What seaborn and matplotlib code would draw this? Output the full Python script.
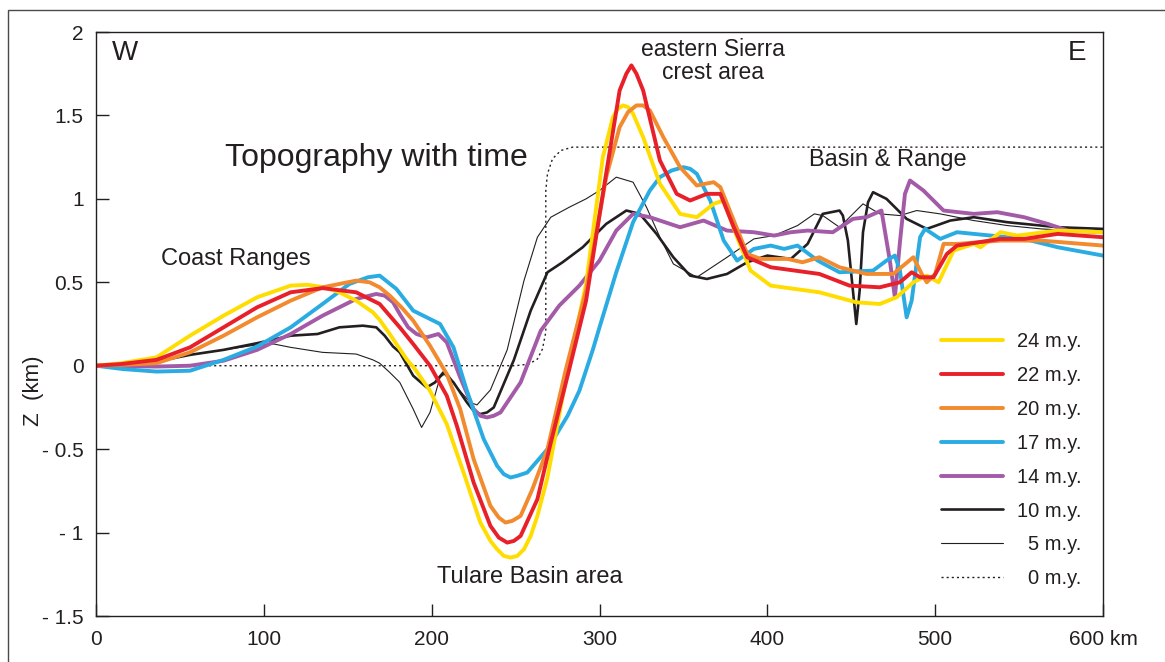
import matplotlib
matplotlib.use("Agg")
import matplotlib.pyplot as plt
import seaborn as sns
from matplotlib.patches import Rectangle

# ---------------- data (km along profile, elevation km) ----------------
x24 = [0, 15, 36, 56, 76, 96, 116, 126, 136, 145, 155, 165, 169, 175, 181, 185, 190, 199, 209, 219, 229, 235, 239, 243, 247, 251, 255, 259, 263, 269, 280, 292, 302, 308, 311, 314, 317, 320, 326, 336, 348, 358, 368, 374, 382, 390, 402, 431, 453, 467, 477, 487, 495, 502, 511, 523, 527, 539, 549, 573, 600]
z24 = [0, 0.015, 0.05, 0.18, 0.30, 0.41, 0.48, 0.485, 0.47, 0.44, 0.39, 0.32, 0.275, 0.19, 0.10, 0.04, -0.02, -0.15, -0.35, -0.64, -0.94, -1.05, -1.10, -1.14, -1.15, -1.14, -1.10, -1.02, -0.90, -0.67, -0.08, 0.49, 1.25, 1.49, 1.54, 1.56, 1.55, 1.51, 1.37, 1.09, 0.91, 0.89, 0.97, 0.99, 0.77, 0.57, 0.48, 0.44, 0.38, 0.37, 0.41, 0.50, 0.54, 0.50, 0.69, 0.73, 0.71, 0.80, 0.78, 0.81, 0.80]

x22 = [0, 15, 36, 56, 76, 96, 116, 135, 155, 165, 169, 175, 181, 189, 199, 209, 215, 225, 235, 240, 245, 249, 253, 263, 271, 282, 292, 302, 312, 316, 319, 322, 326, 336, 346, 354, 364, 372, 380, 388, 402, 431, 449, 467, 479, 486, 491, 499, 507, 513, 539, 553, 573, 600]
z22 = [0, 0.01, 0.035, 0.11, 0.23, 0.35, 0.44, 0.465, 0.44, 0.39, 0.37, 0.30, 0.23, 0.13, 0.0, -0.18, -0.36, -0.70, -0.96, -1.03, -1.06, -1.05, -1.02, -0.80, -0.46, -0.02, 0.39, 1.03, 1.65, 1.75, 1.80, 1.75, 1.65, 1.23, 1.03, 0.99, 1.03, 1.03, 0.83, 0.65, 0.59, 0.55, 0.48, 0.47, 0.50, 0.56, 0.53, 0.53, 0.67, 0.72, 0.76, 0.76, 0.79, 0.77]

x20 = [0, 15, 36, 56, 76, 96, 116, 135, 155, 163, 169, 175, 182, 189, 199, 209, 217, 225, 235, 240, 244, 248, 253, 260, 269, 280, 292, 304, 312, 317, 322, 326, 330, 338, 348, 358, 368, 372, 380, 388, 396, 412, 421, 431, 443, 459, 475, 487, 492, 495, 500, 505, 513, 539, 563, 600]
z20 = [0, 0.005, 0.015, 0.08, 0.18, 0.29, 0.39, 0.47, 0.51, 0.50, 0.47, 0.42, 0.35, 0.27, 0.12, -0.05, -0.26, -0.56, -0.84, -0.91, -0.94, -0.93, -0.90, -0.74, -0.50, -0.02, 0.45, 1.13, 1.43, 1.52, 1.56, 1.56, 1.53, 1.37, 1.19, 1.08, 1.10, 1.07, 0.87, 0.67, 0.64, 0.64, 0.62, 0.65, 0.59, 0.55, 0.55, 0.65, 0.55, 0.50, 0.55, 0.73, 0.73, 0.75, 0.75, 0.72]

x17 = [0, 16, 36, 56, 76, 96, 116, 135, 151, 162, 169, 179, 189, 197, 205, 213, 221, 231, 239, 243, 247, 251, 257, 269, 281, 288, 296, 300, 310, 320, 330, 336, 343, 350, 354, 358, 366, 374, 382, 392, 402, 410, 418, 430, 443, 463, 471, 476, 479, 483, 486, 491, 494, 503, 513, 533, 553, 573, 600]
z17 = [0, -0.02, -0.035, -0.03, 0.035, 0.115, 0.23, 0.37, 0.49, 0.53, 0.54, 0.46, 0.33, 0.29, 0.25, 0.11, -0.15, -0.44, -0.60, -0.65, -0.67, -0.66, -0.64, -0.50, -0.30, -0.15, 0.095, 0.23, 0.56, 0.86, 1.05, 1.13, 1.17, 1.19, 1.18, 1.15, 0.99, 0.75, 0.63, 0.70, 0.72, 0.70, 0.72, 0.63, 0.56, 0.57, 0.63, 0.66, 0.57, 0.29, 0.39, 0.77, 0.82, 0.76, 0.80, 0.78, 0.76, 0.71, 0.66]

x14 = [0, 36, 56, 76, 96, 116, 135, 155, 167, 172, 177, 181, 186, 191, 197, 204, 209, 217, 225, 229, 233, 237, 241, 253, 265, 276, 288, 300, 310, 320, 330, 348, 362, 376, 392, 404, 414, 424, 439, 451, 459, 468, 473, 476, 479, 482, 485, 493, 505, 523, 537, 553, 567, 579, 600]
z14 = [0, -0.005, 0.0, 0.03, 0.095, 0.19, 0.30, 0.40, 0.43, 0.42, 0.38, 0.31, 0.23, 0.19, 0.17, 0.19, 0.14, -0.07, -0.26, -0.30, -0.31, -0.30, -0.28, -0.10, 0.21, 0.36, 0.48, 0.63, 0.81, 0.91, 0.89, 0.83, 0.87, 0.81, 0.80, 0.78, 0.80, 0.81, 0.80, 0.88, 0.89, 0.93, 0.63, 0.41, 0.74, 1.03, 1.11, 1.05, 0.93, 0.91, 0.92, 0.89, 0.85, 0.81, 0.80]

x10 = [0, 36, 56, 76, 96, 116, 132, 145, 159, 167, 172, 177, 181, 189, 197, 202, 207, 213, 221, 225, 229, 233, 237, 249, 259, 269, 278, 290, 304, 316, 324, 334, 344, 354, 364, 376, 388, 400, 414, 424, 433, 443, 445, 448, 451, 453, 455, 457, 460, 463, 471, 483, 495, 509, 523, 543, 573, 600]
z10 = [0, 0.025, 0.065, 0.095, 0.135, 0.18, 0.19, 0.23, 0.24, 0.23, 0.18, 0.115, 0.08, -0.06, -0.13, -0.10, -0.04, -0.10, -0.22, -0.27, -0.29, -0.28, -0.25, 0.035, 0.33, 0.56, 0.62, 0.71, 0.85, 0.93, 0.91, 0.79, 0.65, 0.54, 0.52, 0.55, 0.62, 0.66, 0.64, 0.73, 0.91, 0.93, 0.90, 0.75, 0.45, 0.25, 0.45, 0.80, 0.98, 1.04, 1.00, 0.88, 0.82, 0.87, 0.89, 0.86, 0.83, 0.82]

x5 = [0, 36, 56, 76, 96, 106, 116, 135, 155, 165, 169, 175, 181, 189, 194, 199, 205, 209, 215, 223, 227, 235, 245, 255, 263, 271, 282, 292, 300, 310, 320, 328, 336, 344, 358, 376, 392, 404, 418, 428, 433, 443, 449, 457, 467, 479, 489, 503, 523, 543, 563, 600]
z5 = [0, 0.025, 0.065, 0.095, 0.125, 0.13, 0.11, 0.08, 0.07, 0.035, 0.015, -0.04, -0.10, -0.26, -0.37, -0.28, -0.07, -0.04, -0.13, -0.22, -0.235, -0.145, 0.095, 0.51, 0.77, 0.89, 0.95, 1.00, 1.05, 1.13, 1.10, 0.95, 0.77, 0.61, 0.53, 0.65, 0.76, 0.78, 0.84, 0.91, 0.90, 0.83, 0.89, 0.97, 0.91, 0.90, 0.93, 0.91, 0.87, 0.84, 0.82, 0.80]

x0 = [0, 250, 258, 263, 266, 268, 268, 269, 272, 277, 284, 600]
z0 = [0, 0, 0.01, 0.04, 0.10, 0.20, 1.05, 1.15, 1.24, 1.29, 1.31, 1.31]

labels = ["24 m.y.", "22 m.y.", "20 m.y.", "17 m.y.", "14 m.y.", "10 m.y.", "5 m.y.", "0 m.y."]
xticks = [0, 100, 200, 300, 400, 500, 600]
xticklabels = ["0", "100", "200", "300", "400", "500", "600 km"]
yticks = [-1.5, -1, -0.5, 0, 0.5, 1, 1.5, 2]
yticklabels = ["- 1.5", "- 1", "- 0.5", "0", "0.5", "1", "1.5", "2"]

# ---------------- styling ----------------
sns.set_theme(style="white")
plt.rcParams['font.family'] = ['Liberation Sans', 'DejaVu Sans']
INK = "#231f20"

W, H = 1165, 662
fig = plt.figure(figsize=(W / 100, H / 100), dpi=100)
L, R, T, B = 96, 1103, 32, 616
ax = fig.add_axes([L / W, (H - B) / H, (R - L) / W, (B - T) / H])

series = [
    (x0, z0, "0 m.y.", INK, 1.0, (0, (1.5, 2.2))),
    (x5, z5, "5 m.y.", INK, 0.8, "-"),
    (x10, z10, "10 m.y.", INK, 1.9, "-"),
    (x14, z14, "14 m.y.", "#a35ba8", 2.8, "-"),
    (x17, z17, "17 m.y.", "#2aace2", 2.8, "-"),
    (x24, z24, "24 m.y.", "#ffdd00", 2.8, "-"),
    (x20, z20, "20 m.y.", "#f28a2e", 2.8, "-"),
    (x22, z22, "22 m.y.", "#e8202a", 2.8, "-"),
]
handles = {}
for xs, zs, lab, col, lw, ls in series:
    sns.lineplot(x=xs, y=zs, ax=ax, color=col, lw=lw, linestyle=ls,
                 estimator=None, sort=False, label=lab,
                 solid_joinstyle="round", solid_capstyle="round")
    handles[lab] = ax.lines[-1]

ax.set_xlim(0, 600)
ax.set_ylim(-1.5, 2)
ax.set_xticks(xticks)
ax.set_xticklabels(xticklabels)
ax.set_yticks(yticks)
ax.set_yticklabels(yticklabels)
ax.set_xlabel("")
ax.set_ylabel("")
ax.tick_params(axis="both", direction="in", length=9, width=1, color=INK,
               labelsize=15, labelcolor=INK, left=True, bottom=True,
               top=False, right=False)
ax.tick_params(axis="y", pad=9)
ax.tick_params(axis="x", pad=10)
for s in ax.spines.values():
    s.set_color(INK)
    s.set_linewidth(1.0)
    s.set_visible(True)

leg = ax.legend([handles[l] for l in labels], labels, loc="upper left",
                bbox_to_anchor=((941 - L) / (R - L), (B - 332) / (B - T)),
                frameon=False, fontsize=14.5, handlelength=3.1,
                handletextpad=0.65, labelspacing=0.74, borderpad=0,
                borderaxespad=0)
for t in leg.get_texts():
    t.set_color(INK)

# right-align legend labels
fig.canvas.draw()
rend = fig.canvas.get_renderer()
texts = leg.get_texts()
widths = [t.get_window_extent(rend).width for t in texts]
wmax = max(widths)
for t, w in zip(texts, widths):
    t.set_position((wmax - w, 0))

def px(xp, yp):
    return ((xp - L) / (R - L), (B - yp) / (B - T))

ax.text(*px(125, 53), "W", transform=ax.transAxes, ha="center", va="center", fontsize=20, color=INK)
ax.text(*px(1077, 53), "E", transform=ax.transAxes, ha="center", va="center", fontsize=20, color=INK)
ax.text(*px(713, 61), "eastern Sierra\ncrest area", transform=ax.transAxes, ha="center", va="center",
        fontsize=16.5, color=INK, linespacing=1.05)
ax.text(*px(225, 158), "Topography with time", transform=ax.transAxes, ha="left", va="center",
        fontsize=23, color=INK)
ax.text(*px(888, 160), "Basin & Range", transform=ax.transAxes, ha="center", va="center",
        fontsize=17, color=INK)
ax.text(*px(236, 259), "Coast Ranges", transform=ax.transAxes, ha="center", va="center",
        fontsize=17, color=INK)
ax.text(*px(530, 577), "Tulare Basin area", transform=ax.transAxes, ha="center", va="center",
        fontsize=17, color=INK)
fig.text(33 / W, (H - 391) / H, "Z  (km)", rotation=90, ha="center", va="center",
         fontsize=16, color=INK)

# outer frame
fig.add_artist(Rectangle((8 / W, -0.5), 2, (H - 10) / H + 0.5, transform=fig.transFigure,
                         fill=False, lw=1.0, ec="#4a4a4a"))

fig.savefig("out.png", dpi=100)
